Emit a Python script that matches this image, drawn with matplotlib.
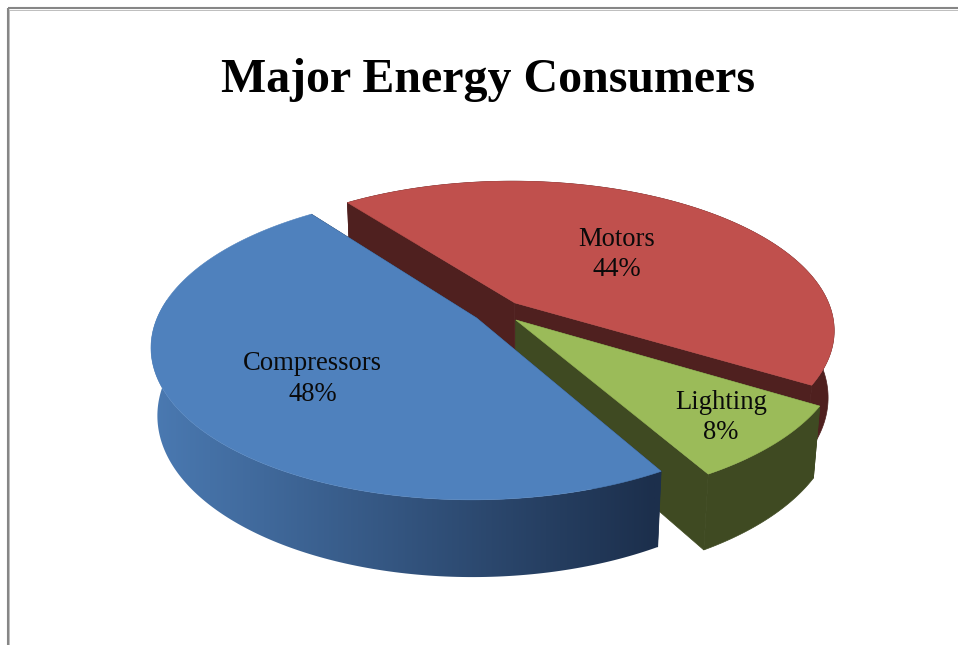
import numpy as np
import matplotlib
matplotlib.use("Agg")
import matplotlib.pyplot as plt
from matplotlib.patches import Polygon
from matplotlib.colors import to_rgb

categories = ["Motors", "Lighting", "Compressors"]
values = [44, 8, 48]
top_colors = ["#C0504D", "#9BBB59", "#4F81BD"]
wall_colors = ["#4F201F", "#3F4A22", "#1C2F4C"]
title = "Major Energy Consumers"

START = 127.0
EXPLODE = 0.08
CX, CY = 498.0, 311.5
A, B, H = 317.0, 146.5, 67.5
K, M = 0.18, 0.018
label_xy = {"Motors": (617, 254.5), "Lighting": (721, 417.5), "Compressors": (312.5, 379)}

plt.rcParams["font.family"] = ["Liberation Serif", "DejaVu Serif"]
fig = plt.figure(figsize=(9.58, 6.45), dpi=100, facecolor="white")
ax = fig.add_axes([0, 0, 1, 1])
ax.axis("off")


def project(X, Y, Z):
    s = 1.0 / (1.0 + K * Y - M * Z)
    return CX + A * X * s, CY + (-B * Y - H * Z) * s


ang = START
for i, (cat, val) in enumerate(zip(categories, values)):
    sweep = val / sum(values) * 360.0
    a0, a1 = ang, ang - sweep
    ang = a1
    mid = np.radians((a0 + a1) / 2)
    ox, oy = EXPLODE * np.cos(mid), EXPLODE * np.sin(mid)
    th = np.radians(np.linspace(a0, a1, 200))
    X, Y = ox + np.cos(th), oy + np.sin(th)
    tx, ty = project(X, Y, 0.0)
    bx, by = project(X, Y, -1.0)
    z = 2 + i * 3

    # flat inner walls, behind the curved wall of the same slice
    ctx, cty = project(ox, oy, 0.0)
    cbx, cby = project(ox, oy, -1.0)
    for idx in (0, -1):
        pts = [(ctx, cty), (tx[idx], ty[idx]), (bx[idx], by[idx]), (cbx, cby)]
        ax.add_patch(Polygon(pts, closed=True, fc=wall_colors[i], ec=wall_colors[i], lw=0.5, zorder=z))

    # curved outer wall
    outer = np.column_stack([np.r_[tx, bx[::-1]], np.r_[ty, by[::-1]]])
    if cat == "Compressors":
        poly = Polygon(outer, closed=True, fc="none", ec="none", zorder=z + 1)
        ax.add_patch(poly)
        light = np.array(to_rgb("#4A79B1"))
        dark = np.array(to_rgb("#1C2F4C"))
        f = np.linspace(0, 1, 256)[None, :, None]
        grad = light[None, None, :] + (dark - light)[None, None, :] * f
        im = ax.imshow(grad, extent=(155, 655, 600, 300), aspect="auto", zorder=z + 1,
                       interpolation="bilinear")
        im.set_clip_path(poly)
        # extend gradient colours past both ends of its range
        edge = Polygon(outer, closed=True, fc="none", ec="none", zorder=z + 1)
        ax.add_patch(edge)
        for x0, x1, col in ((140, 155, light), (655, 670, dark)):
            r = ax.fill_between([x0, x1], 300, 600, color=col, lw=0, zorder=z + 1)
            r.set_clip_path(edge)
    else:
        ax.add_patch(Polygon(outer, closed=True, fc=wall_colors[i], ec=wall_colors[i], lw=0.5, zorder=z + 1))

    # top face
    pts = np.column_stack([np.r_[ctx, tx], np.r_[cty, ty]])
    ax.add_patch(Polygon(pts, closed=True, fc=top_colors[i], ec=top_colors[i], lw=0.4, zorder=z + 2))

    lx, ly = label_xy[cat]
    ax.text(lx, ly, f"{cat}\n{val}%", ha="center", va="center", fontsize=19.2,
            color="#0A0A0A", linespacing=1.3, zorder=20)

ax.text(488, 80, title, ha="center", va="center", fontsize=34.5, fontweight="bold", color="black", zorder=20)

# chart frame
ax.plot([8, 958], [8, 8], color="#868686", lw=1.5, solid_capstyle="butt", zorder=1)
ax.plot([8, 8], [8, 645], color="#868686", lw=1.5, solid_capstyle="butt", zorder=1)
ax.plot([9, 958], [9.5, 9.5], color="#BDBDBD", lw=0.7, solid_capstyle="butt", zorder=1)
ax.plot([9.5, 9.5], [9, 645], color="#BDBDBD", lw=0.7, solid_capstyle="butt", zorder=1)

ax.set_xlim(0, 958)
ax.set_ylim(645, 0)
fig.savefig("out.png", dpi=100, facecolor="white")
